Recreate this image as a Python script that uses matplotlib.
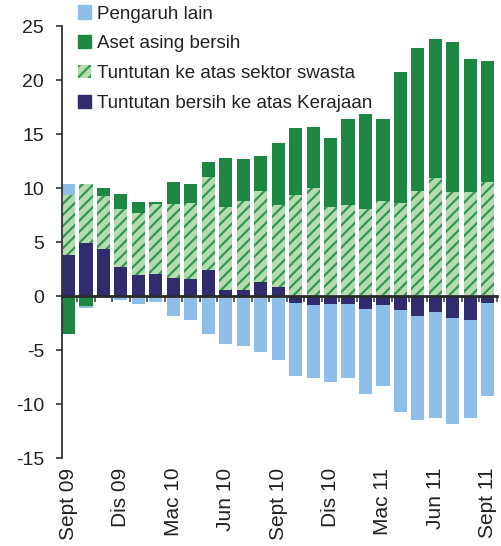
import numpy as np
import matplotlib
matplotlib.use("Agg")
import matplotlib.pyplot as plt
from matplotlib.patches import Patch

plt.rcParams['font.family'] = ['Liberation Sans', 'DejaVu Sans']
plt.rcParams['hatch.linewidth'] = 1.6
plt.rcParams['axes.unicode_minus'] = False

months = ["Sept 09", "Okt 09", "Nov 09", "Dis 09", "Jan 10", "Feb 10", "Mac 10",
          "Apr 10", "Mei 10", "Jun 10", "Jul 10", "Ogos 10", "Sept 10", "Okt 10",
          "Nov 10", "Dis 10", "Jan 11", "Feb 11", "Mac 11", "Apr 11", "Mei 11",
          "Jun 11", "Jul 11", "Ogos 11", "Sept 11"]

kerajaan = [3.84, 4.95, 4.33, 2.72, 1.98, 2.07, 1.70, 1.61, 2.45, 0.59, 0.59, 1.33,
            0.87, -0.65, -0.84, -0.74, -0.74, -1.21, -0.84, -1.30, -1.86, -1.49,
            -2.04, -2.23, -0.65]
swasta = [5.57, 5.39, 4.90, 5.36, 5.76, 6.44, 6.81, 7.06, 8.63, 7.71, 8.26, 8.45,
          7.61, 9.41, 9.97, 8.30, 8.48, 8.11, 8.85, 8.67, 9.78, 10.90, 9.60, 9.60,
          10.53]
aset_asing = [-3.53, -0.87, 0.83, 1.42, 1.02, 0.25, 2.02, 1.67, 1.30, 4.46, 3.81,
              3.16, 5.67, 6.13, 5.66, 6.31, 7.90, 8.73, 7.53, 12.07, 13.19, 12.91,
              13.93, 12.35, 11.24]
lain = [0.93, -0.25, 0.0, -0.37, -0.74, -0.56, -1.86, -2.23, -3.53, -4.46, -4.64,
        -5.20, -5.94, -6.78, -6.77, -7.25, -6.87, -7.89, -7.52, -9.47, -9.65, -9.84,
        -9.84, -9.10, -8.64]

tick_labels = months[::3]

series = [
    ("Tuntutan bersih ke atas Kerajaan", kerajaan, dict(color="#312C6E")),
    ("Tuntutan ke atas sektor swasta", swasta,
     dict(facecolor="#B4DCAF", edgecolor="#2F9A50", hatch="///", linewidth=0)),
    ("Aset asing bersih", aset_asing, dict(color="#1E8843")),
    ("Pengaruh lain", lain, dict(color="#8FBFE8")),
]

fig = plt.figure(figsize=(5.01, 5.46), dpi=100)
ax = fig.add_axes([0.1228, 0.161, 0.869, 0.791])

x = np.arange(len(months))
pos_base = np.zeros(len(months))
neg_base = np.zeros(len(months))
handles = []
for name, vals, style in series:
    v = np.array(vals)
    bottom = np.where(v >= 0, pos_base, neg_base)
    ax.bar(x, v, bottom=bottom, width=0.75, zorder=2, **style)
    pos_base = pos_base + np.where(v >= 0, v, 0)
    neg_base = neg_base + np.where(v < 0, v, 0)
    handles.append(Patch(label=name, **style))

ax.set_xlim(-0.4, 24.52)
ax.set_ylim(-15, 25)
ax.set_yticks([-15, -10, -5, 0, 5, 10, 15, 20, 25])

for s in ["top", "right"]:
    ax.spines[s].set_visible(False)
ax.spines["left"].set_color("#333333")
ax.spines["left"].set_linewidth(1.3)
ax.spines["bottom"].set_position(("data", 0))
ax.spines["bottom"].set_color("#2a2a2a")
ax.spines["bottom"].set_linewidth(2.0)
ax.spines["bottom"].set_zorder(3)

ax.set_xticks(x + 0.5)
ax.set_xticklabels([])
ax.tick_params(axis="x", direction="out", length=4, width=1.2, color="#444444")
ax.tick_params(axis="y", direction="out", length=4.5, width=1.2, color="#333333",
               labelsize=14, pad=8, labelcolor="#222222")

for lab in tick_labels:
    i = months.index(lab)
    ax.annotate(lab, xy=(i, 0), xycoords=("data", "axes fraction"),
                xytext=(0, -7), textcoords="offset points", rotation=90,
                ha="center", va="top", fontsize=15, color="#222222")

fig.legend(handles=handles[::-1], loc="upper left", bbox_to_anchor=(0.155, 0.99),
           frameon=False, fontsize=13.5, handlelength=0.7, handleheight=0.7,
           handletextpad=0.35, labelspacing=0.68, borderpad=0, borderaxespad=0,
           labelcolor="#222222")

fig.savefig("out.png", dpi=100)
